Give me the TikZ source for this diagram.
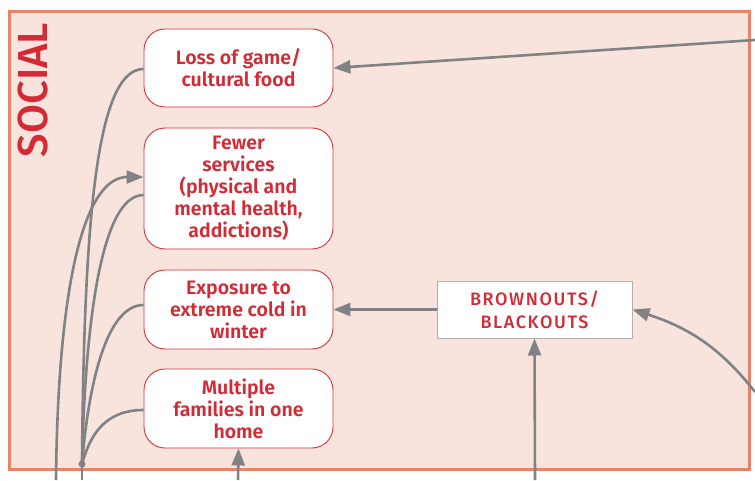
\documentclass[tikz,border=0pt]{standalone}
\usepackage{fontspec}
\setmainfont{Fira Sans}
\newfontfamily\semib{Fira Sans SemiBold}
\newfontfamily\medf{Fira Sans Medium}
\usetikzlibrary{arrows.meta}
\definecolor{frameedge}{HTML}{E8836A}
\definecolor{framefill}{HTML}{F8E4DC}
\definecolor{txtred}{HTML}{D22B36}
\definecolor{boxred}{HTML}{D9323E}
\definecolor{linegray}{HTML}{808285}
\definecolor{boxgray}{HTML}{B2B2AA}
\begin{document}
\begin{tikzpicture}[x=1pt,y=1pt,
  effect/.style={draw=boxred,line width=0.9pt,fill=white,rounded corners=21pt,
    minimum width=189pt,align=center,text=txtred,
    font=\semib\fontsize{19.5}{22}\selectfont},
  hub/.style={draw=boxgray,line width=1pt,fill=white,minimum width=195pt,minimum height=57pt,
    align=center,text=txtred,font=\medf\addfontfeatures{LetterSpace=9}\fontsize{18}{23}\selectfont},
  conn/.style={draw=linegray,line width=2.6pt},
  arr/.style={conn,-{Triangle[length=17pt,width=13pt]}}]
\useasboundingbox (0,0) rectangle (755,480);
\draw[draw=frameedge,fill=framefill,line width=3pt] (9.5,10.5) rectangle (749.5,468.5);
\node[rotate=90,text=txtred,font=\medf\fontsize{42}{44}\selectfont] (social) at (33,390) {SOCIAL};
\node[effect,minimum height=78pt] (loss) at (238.5,412) {Loss of game/\\cultural food};
\node[effect,minimum height=121pt] (fewer) at (238.5,291.5) {Fewer\\services\\(physical and\\mental health,\\addictions)};
\node[effect,minimum height=79pt] (expo) at (238.5,170.5) {Exposure to\\extreme cold in\\winter};
\node[effect,minimum height=79pt] (multi) at (238.5,71.5) {Multiple\\families in one\\home};
\node[hub] (brown) at (534.5,170.5) {BROWNOUTS/\\BLACKOUTS};
\coordinate (inTop) at (755,440);
\coordinate (inRight) at (755,88);
\coordinate (inBrown) at (535,0);
\coordinate (inMulti) at (238,0);
\coordinate (inHub) at (82,0);
\coordinate (inFewer) at (56,0);
\coordinate (dot) at (82,16);
\draw[arr] (inTop) -- (loss.east);
\draw[arr] (brown.west) -- (expo.east);
\draw[arr] (inBrown) -- (brown.south);
\draw[arr] (inRight) to[out=128,in=-18] (brown.east);
\draw[arr] (inMulti) -- (multi.south);
\draw[conn] (inHub) -- (dot);
\draw[conn] (dot) .. controls (84,250) and (95,411) .. ([yshift=-1pt]loss.west);
\draw[conn] (dot) .. controls (85,150) and (100,285) .. ([yshift=-6.5pt]fewer.west);
\draw[conn] (dot) .. controls (88,90) and (105,175) .. ([yshift=4.5pt]expo.west);
\draw[conn] (dot) .. controls (90,45) and (105,70) .. ([yshift=-1.5pt]multi.west);
\draw[arr] (inFewer) .. controls (58,200) and (85,303) .. ([yshift=11.5pt]fewer.west);
\fill[linegray] (dot) circle (3.5pt);
\end{tikzpicture}
\end{document}
